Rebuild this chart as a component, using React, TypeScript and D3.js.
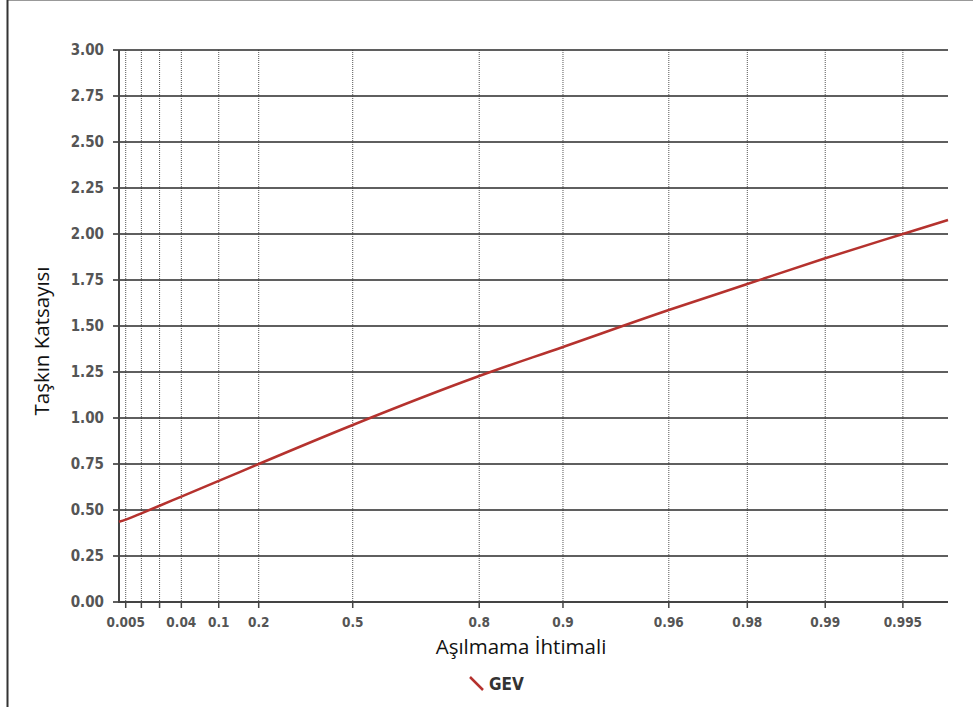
import React from "react";
import * as d3 from "d3";

// non-exceedance probabilities (Gumbel paper) and GEV flood coefficient
const probs = [0.0036, 0.005, 0.01, 0.02, 0.04, 0.1, 0.2, 0.5, 0.8, 0.9, 0.96, 0.98, 0.99, 0.995, 0.99666];
const gev = [0.436, 0.448, 0.482, 0.523, 0.573, 0.658, 0.75, 0.962, 1.228, 1.386, 1.587, 1.728, 1.868, 2.0, 2.076];

const tickProbs = [0.005, 0.01, 0.02, 0.04, 0.1, 0.2, 0.5, 0.8, 0.9, 0.96, 0.98, 0.99, 0.995];
const tickLabels = ["0.005", "", "", "0.04", "0.1", "0.2", "0.5", "0.8", "0.9", "0.96", "0.98", "0.99", "0.995"];
const yTicks = [0, 0.25, 0.5, 0.75, 1, 1.25, 1.5, 1.75, 2, 2.25, 2.5, 2.75, 3];

const gumbel = (p: number) => -Math.log(-Math.log(p));

export default function App() {
  const width = 973;
  const height = 707;
  const margin = { top: 50, right: 25, bottom: 105, left: 119 };
  const x0 = margin.left;
  const x1 = width - margin.right;
  const y0 = height - margin.bottom;
  const y1 = margin.top;

  const xScale = d3
    .scaleLinear()
    .domain([gumbel(probs[0]), gumbel(probs[probs.length - 1])])
    .range([x0, x1]);
  const yScale = d3.scaleLinear().domain([0, 3]).range([y0, y1]);

  const points = probs.map((p, i) => [xScale(gumbel(p)), yScale(gev[i])] as [number, number]);
  const line = d3.line().curve(d3.curveMonotoneX)(points) || "";

  const tickFont = "'DejaVu Sans Condensed', 'DejaVu Sans', sans-serif";
  const titleFont = "'Open Sans', sans-serif";

  return (
    <svg
      width={width}
      height={height}
      style={{ position: "absolute", left: 0, top: 0, background: "#fff" }}
    >
      <line x1={7} x2={width} y1={0.5} y2={0.5} stroke="#999" strokeWidth={1} />
      <line x1={7.5} x2={7.5} y1={0} y2={height} stroke="#333" strokeWidth={2} />

      {/* vertical dotted grid */}
      {tickProbs.map((p) => (
        <line
          key={"v" + p}
          x1={xScale(gumbel(p))}
          x2={xScale(gumbel(p))}
          y1={y1}
          y2={y0}
          stroke="#555"
          strokeWidth={1}
          strokeDasharray="1,1"
        />
      ))}
      {tickProbs.map((p) => (
        <line
          key={"vt" + p}
          x1={xScale(gumbel(p))}
          x2={xScale(gumbel(p))}
          y1={y0}
          y2={y0 + 6}
          stroke="#444"
          strokeWidth={1.5}
        />
      ))}

      {/* horizontal grid */}
      {yTicks.map((v) => (
        <line
          key={"h" + v}
          x1={x0 - 6}
          x2={x1}
          y1={yScale(v)}
          y2={yScale(v)}
          stroke="#2a2a2a"
          strokeWidth={1.5}
        />
      ))}

      {/* axes */}
      <line x1={x0} x2={x0} y1={y1} y2={y0 + 1} stroke="#444" strokeWidth={2} />
      <line x1={x0} x2={x1} y1={y0} y2={y0} stroke="#444" strokeWidth={2} />

      {yTicks.map((v) => (
        <text
          key={"yl" + v}
          x={x0 - 15}
          y={yScale(v)}
          dy="0.36em"
          textAnchor="end"
          fontFamily={tickFont}
          fontStretch="condensed"
          fontWeight="bold"
          fontSize={15}
          fill="#555"
        >
          {v.toFixed(2)}
        </text>
      ))}
      {tickProbs.map((p, i) => (
        <text
          key={"xl" + p}
          x={xScale(gumbel(p))}
          y={y0 + 25}
          textAnchor="middle"
          fontFamily={tickFont}
          fontStretch="condensed"
          fontWeight="bold"
          fontSize={13.5}
          fill="#555"
        >
          {tickLabels[i]}
        </text>
      ))}

      <path d={line} fill="none" stroke="#b5322e" strokeWidth={2.5} />

      <text
        x={521}
        y={654}
        textAnchor="middle"
        fontFamily={titleFont}
        fontSize={20.5}
        fill="#111"
      >
        Aşılmama İhtimali
      </text>
      <text
        transform={`translate(49,341) rotate(-90)`}
        textAnchor="middle"
        fontFamily={titleFont}
        fontSize={20.5}
        fill="#111"
      >
        Taşkın Katsayısı
      </text>

      {/* legend */}
      <line x1={470} y1={677} x2={483} y2={690} stroke="#b5322e" strokeWidth={2.5} />
      <text x={489} y={690} fontFamily={tickFont} fontStretch="condensed" fontWeight="bold" fontSize={17} fill="#333">
        GEV
      </text>
    </svg>
  );
}
